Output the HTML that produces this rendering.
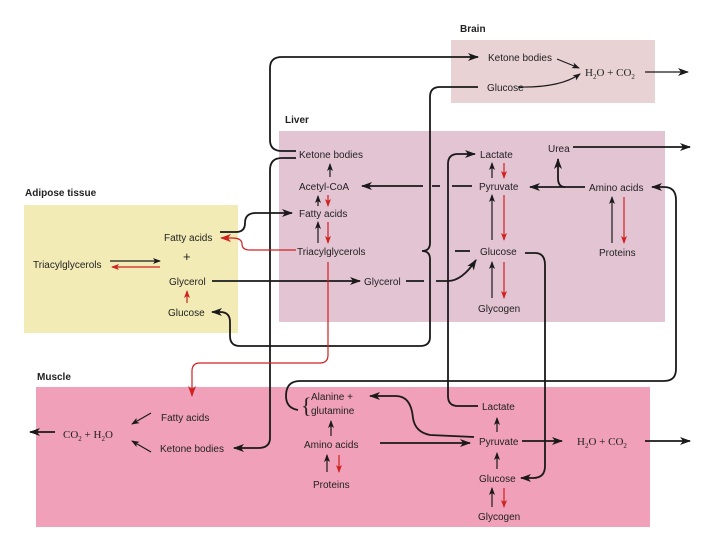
<!DOCTYPE html>
<html><head><meta charset="utf-8"><style>
body{margin:0;background:#fff;}
svg{display:block;font-family:"Liberation Sans",sans-serif;}
text{font-size:10px;fill:#222;}
.b{font-weight:bold;font-size:10px;}
.k{stroke:#1a1a1a;fill:none;stroke-width:1.8;}
.t{stroke:#1a1a1a;fill:none;stroke-width:1.2;}
.r{stroke:#d02020;fill:none;stroke-width:1.2;}
</style></head><body>
<svg width="720" height="540" viewBox="0 0 720 540">
<defs>
<marker id="a" markerUnits="userSpaceOnUse" markerWidth="12" markerHeight="10" refX="10" refY="4" orient="auto"><path d="M0,0 L11,4 L0,8 L3,4z" fill="#1a1a1a"/></marker>
<marker id="s" markerUnits="userSpaceOnUse" markerWidth="9" markerHeight="8" refX="7" refY="3" orient="auto"><path d="M0,0 L8,3 L0,6 L2,3z" fill="#1a1a1a"/></marker>
<marker id="rr" markerUnits="userSpaceOnUse" markerWidth="12" markerHeight="10" refX="10" refY="4" orient="auto"><path d="M0,0 L11,4 L0,8 L3,4z" fill="#d02020"/></marker>
<marker id="rs" markerUnits="userSpaceOnUse" markerWidth="9" markerHeight="8" refX="7" refY="3" orient="auto"><path d="M0,0 L8,3 L0,6 L2,3z" fill="#d02020"/></marker>
</defs>
<rect x="451" y="40" width="204" height="63" fill="#e8d2d4"/>
<rect x="279" y="131" width="386" height="191" fill="#e3c4d3"/>
<rect x="24" y="205" width="214" height="128" fill="#f3ebb6"/>
<rect x="36" y="387" width="614" height="140" fill="#f0a0b8"/>
<text x="460" y="32" class="b">Brain</text>
<text x="285" y="123" class="b">Liver</text>
<text x="25" y="196" class="b">Adipose tissue</text>
<text x="37" y="380" class="b">Muscle</text>

<text x="488" y="61">Ketone bodies</text>
<text x="487" y="91">Glucose</text>
<text x="585" y="76" style="font-family:'Liberation Serif';font-size:11px">H<tspan style="font-size:7px" dy="3">2</tspan><tspan dy="-3">O + CO</tspan><tspan style="font-size:7px" dy="3">2</tspan></text>
<path class="t" d="M557,59 L579,68" marker-end="url(#s)"/>
<path class="t" d="M518,87 Q560,88 580,74" marker-end="url(#s)"/>
<path class="t" d="M645,72 L688,72" marker-end="url(#a)"/>

<text x="299" y="158">Ketone bodies</text>
<text x="299" y="190">Acetyl-CoA</text>
<text x="299" y="217">Fatty acids</text>
<text x="297" y="255">Triacylglycerols</text>
<text x="364" y="285">Glycerol</text>
<text x="480" y="158">Lactate</text>
<text x="479" y="190">Pyruvate</text>
<text x="480" y="255">Glucose</text>
<text x="478" y="312">Glycogen</text>
<text x="548" y="152">Urea</text>
<text x="589" y="191">Amino acids</text>
<text x="599" y="256">Proteins</text>

<path class="t" d="M330,177 L330,164" marker-end="url(#s)"/>
<path class="t" d="M318,206 L318,196" marker-end="url(#s)"/>
<path class="r" d="M328,195 L328,206" marker-end="url(#rs)"/>
<path class="t" d="M318,243 L318,222" marker-end="url(#s)"/>
<path class="r" d="M328,222 L328,243" marker-end="url(#rs)"/>
<path class="t" d="M492,178 L492,163" marker-end="url(#s)"/>
<path class="r" d="M504,163 L504,178" marker-end="url(#rs)"/>
<path class="t" d="M492,240 L492,195" marker-end="url(#s)"/>
<path class="r" d="M504,195 L504,240" marker-end="url(#rs)"/>
<path class="t" d="M492,298 L492,262" marker-end="url(#s)"/>
<path class="r" d="M504,262 L504,298" marker-end="url(#rs)"/>
<path class="t" d="M612,243 L612,197" marker-end="url(#s)"/>
<path class="r" d="M624,197 L624,243" marker-end="url(#rs)"/>
<path class="k" d="M585,187 L530,187" marker-end="url(#a)"/>
<path class="k" d="M565,187 Q558,187 558,178 L558,159" marker-end="url(#a)"/>
<path class="k" d="M573,147 L690,147" marker-end="url(#a)"/>
<path class="k" d="M472,186 L452,186 M440,186 L432,186 M423,186 L362,186" marker-end="url(#a)"/>
<path class="k" d="M470,251 L455,251"/>

<path class="k" d="M296,151 L282,151 Q270,151 270,140 L270,68 Q270,57 282,57 L478,57" marker-end="url(#a)"/>
<path class="k" d="M296,158 L282,158 Q270,158 270,170 L270,438 Q270,448 258,448 L234,448" marker-end="url(#a)"/>

<path class="k" d="M478,87 L440,87 Q430,87 430,97 L430,243 Q430,251 422,251 Q430,251 430,259 L430,337 Q430,346 420,346 L240,346 Q230,346 230,336 L230,322 Q230,312 220,312 L212,312" marker-end="url(#a)"/>

<path class="k" d="M478,406 L458,406 Q448,406 448,396 L448,164 Q448,154 458,154 L475,154" marker-end="url(#a)"/>
<path class="k" d="M525,253 L535,253 Q545,253 545,265 L545,466 Q545,478 533,478 L521,478" marker-end="url(#a)"/>
<path class="k" d="M298,410 Q286,408 286,396 Q286,381 300,381 L664,381 Q676,381 676,369 L676,200 Q676,187 664,187 L652,187" marker-end="url(#a)"/>

<text x="164" y="241">Fatty acids</text>
<text x="183" y="261" style="font-size:13px">+</text>
<text x="33" y="268">Triacylglycerols</text>
<text x="169" y="285">Glycerol</text>
<text x="168" y="316">Glucose</text>
<path class="t" d="M110,261 L160,261" marker-end="url(#s)"/>
<path class="r" d="M160,267 L112,267" marker-end="url(#rs)"/>
<path class="r" d="M187,303 L187,291" marker-end="url(#rs)"/>
<path class="k" d="M220,232 L236,232 Q245,232 245,223 Q245,213 256,213 L292,213" marker-end="url(#a)"/>
<path class="r" d="M296,250 L250,250 Q242,250 242,244 Q242,238 232,238 L221,238" marker-end="url(#rr)"/>
<path class="k" d="M212,281 L360,281" marker-end="url(#a)"/>
<path class="k" d="M406,281 L424,281 M436,281 L448,281 Q462,281 476,260" marker-end="url(#a)"/>
<path class="r" d="M328,262 L328,355 Q328,363 320,363 L200,363 Q192,363 192,371 L192,396" marker-end="url(#rr)"/>

<text x="63" y="438" style="font-family:'Liberation Serif';font-size:11px">CO<tspan style="font-size:7px" dy="3">2</tspan><tspan dy="-3"> + H</tspan><tspan style="font-size:7px" dy="3">2</tspan><tspan dy="-3">O</tspan></text>
<text x="161" y="421">Fatty acids</text>
<text x="160" y="452">Ketone bodies</text>
<text x="311" y="400">Alanine +</text>
<text x="311" y="414">glutamine</text>
<text x="301" y="413" style="font-size:22px;font-family:'Liberation Serif'">{</text>
<text x="304" y="448">Amino acids</text>
<text x="313" y="488">Proteins</text>
<text x="482" y="410">Lactate</text>
<text x="479" y="445">Pyruvate</text>
<text x="479" y="482">Glucose</text>
<text x="478" y="520">Glycogen</text>
<text x="577" y="445" style="font-family:'Liberation Serif';font-size:11px">H<tspan style="font-size:7px" dy="3">2</tspan><tspan dy="-3">O + CO</tspan><tspan style="font-size:7px" dy="3">2</tspan></text>
<path class="t" d="M151,413 L132,424" marker-end="url(#s)"/>
<path class="t" d="M151,452 L132,441" marker-end="url(#s)"/>
<path class="k" d="M55,432 L30,432" marker-end="url(#a)"/>
<path class="t" d="M331,436 L331,421" marker-end="url(#s)"/>
<path class="t" d="M327,472 L327,455" marker-end="url(#s)"/>
<path class="r" d="M339,455 L339,472" marker-end="url(#rs)"/>
<path class="t" d="M497,432 L497,418" marker-end="url(#s)"/>
<path class="t" d="M497,469 L497,453" marker-end="url(#s)"/>
<path class="t" d="M492,507 L492,488" marker-end="url(#s)"/>
<path class="r" d="M504,488 L504,507" marker-end="url(#rs)"/>
<path class="k" d="M380,443 L470,443" marker-end="url(#a)"/>
<path class="k" d="M474,437 L430,435 Q415,432 413,418 Q411,396 396,396 L370,396" marker-end="url(#a)"/>
<path class="k" d="M522,441 L562,441" marker-end="url(#a)" stroke-width="2.5"/>
<path class="k" d="M645,441 L690,441" marker-end="url(#a)"/>
</svg>
</body></html>
